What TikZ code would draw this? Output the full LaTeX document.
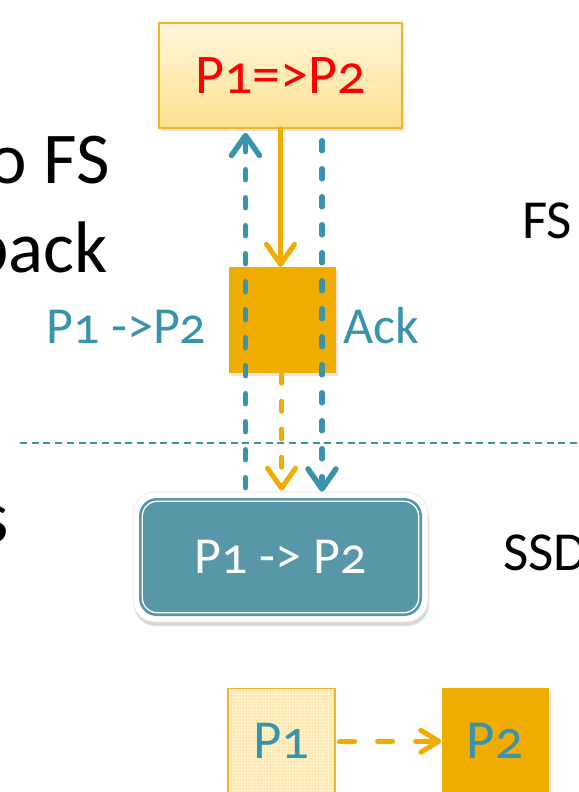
\documentclass[tikz,border=0pt]{standalone}
\usepackage{fontspec}
\setmainfont{Carlito}[Numbers=OldStyle]
\usetikzlibrary{arrows.meta,shadows,patterns}
\definecolor{gold}{HTML}{F0AC00}
\definecolor{goldline}{HTML}{F1B42C}
\definecolor{tealline}{HTML}{3A93AC}
\definecolor{ssdfill}{HTML}{5797A8}
\definecolor{paletop}{HTML}{FFF6DC}
\definecolor{palebot}{HTML}{FFE08E}
\definecolor{paledot}{HTML}{FFF0C8}
\newcommand{\fsz}[1]{\fontsize{#1}{#1}\selectfont}
\tikzset{
  chev/.tip={Straight Barb[length=20pt,width=28pt,line cap=round,line join=round]},
  smallchev/.tip={Straight Barb[length=18pt,width=22pt,line cap=round,line join=round]},
  softshadow/.style={drop shadow={opacity=0.22,shadow xshift=2pt,shadow yshift=-2.5pt}},
  deepshadow/.style={drop shadow={opacity=0.3,shadow xshift=1pt,shadow yshift=-4pt}},
  topbox/.style={draw=goldline,line width=1.5pt,top color=paletop,bottom color=palebot,
    minimum width=243pt,minimum height=105pt,inner sep=0pt,text=red,softshadow,font=\fsz{56}},
  goldsq/.style={fill=gold,minimum width=107pt,minimum height=106pt,inner sep=0pt,softshadow},
  ssdouter/.style={fill=white,draw=black!10,line width=0.6pt,rounded corners=22pt,
    minimum width=295pt,minimum height=130pt,inner sep=0pt,deepshadow},
  ssdinner/.style={fill=ssdfill,rounded corners=18pt,minimum width=283pt,minimum height=118pt,
    text=white,font=\fsz{52},inner sep=0pt},
  ssdrim/.style={draw=white,line width=1.3pt,rounded corners=15pt},
  tealarrow/.style={draw=tealline,line width=5.5pt,line cap=round,dash pattern=on 10pt off 18pt},
  goldarrow/.style={draw=gold,line width=5pt,line cap=round},
  golddash/.style={goldarrow,dash pattern=on 10pt off 18pt},
  sepline/.style={draw=tealline,line width=2.4pt,dash pattern=on 7pt off 4.7pt},
  pagebox/.style={anchor=north,minimum width=107pt,inner xsep=0pt,inner ysep=0pt,
    text height=70pt,text depth=50pt,text=tealline,font=\fsz{55}},
  oldpage/.style={pagebox,draw=goldline,line width=1.2pt,preaction={fill=paledot},
    pattern=dots,pattern color=gold!85},
  newpage/.style={pagebox,fill=gold,softshadow},
  side/.style={inner sep=0pt,font=\fsz{52},text=tealline},
  layer/.style={inner sep=0pt,font=\fsz{55},text=black},
  slide/.style={inner sep=0pt,font=\fsz{73},text=black}
}
\begin{document}
\begin{tikzpicture}[x=1pt,y=-1pt]
  \useasboundingbox (0,0) rectangle (578,792);

  % slide text running in from the left
  \node[slide,anchor=base east] (t1) at (110,183) {o FS};
  \node[slide,anchor=base east] (t2) at (108,272) {back};
  \node[slide,anchor=base east,font=\fsz{75}] (t3) at (9,542) {s};

  % layer names
  \node[layer,anchor=base west] (lfs) at (522,238) {FS};
  \node[layer,anchor=base west] (lssd) at (503,570) {SSD};

  % boundary between file system and device
  \coordinate (sepL) at (20,443);
  \coordinate (sepR) at (582,443);
  \draw[sepline] (sepL) -- (sepR);

  % file system request
  \node[topbox] (fs) at (280.5,75.5) {P1=>P2};

  % buffered copy
  \node[goldsq] (buf) at (282,320) {};

  % device box
  \node[ssdouter] (ssdout) at (280.5,557) {};
  \node[ssdinner] (ssd) at (280.5,557) {P1 -> P2};
  \draw[ssdrim] ([shift={(3.5,-3.5)}]ssd.south west) rectangle ([shift={(-3.5,3.5)}]ssd.north east);

  % write path
  \draw[goldarrow,-{chev}] (fs.south) -- (fs.south |- buf.north);
  \draw[golddash,-{chev}] ([xshift=-0.5pt]buf.south) -- ([xshift=-0.5pt,yshift=1pt]buf.south |- ssdout.north);

  % command down and acknowledgement up
  \draw[tealarrow,-{chev}] ([xshift=-35pt,yshift=4pt]ssdout.north) -- ([xshift=-35pt,yshift=-4pt]fs.south);
  \draw[tealarrow,-{chev}] ([xshift=41.5pt,yshift=-12pt]fs.south) -- ([xshift=41.5pt]ssdout.north);

  % arrow labels
  \node[side,anchor=base west] (cmd) at (46,343) {P1 ->P2};
  \node[side,anchor=base west] (ack) at (343,343) {Ack};

  % pages on flash
  \node[oldpage] (p1) at (281.5,688) {P1};
  \node[newpage] (p2) at (495,688) {P2};
  \draw[golddash,dash pattern=on 15pt off 23pt,-{smallchev}] ([xshift=4pt,yshift=7pt]p1.east) -- ([yshift=7pt]p2.west);
\end{tikzpicture}
\end{document}
